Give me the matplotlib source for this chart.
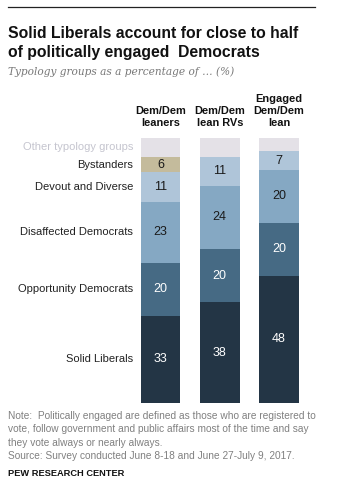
import matplotlib
matplotlib.use("Agg")
import matplotlib.pyplot as plt
import numpy as np

columns = ["Dem/Dem\nleaners", "Dem/Dem\nlean RVs", "Engaged\nDem/Dem\nlean"]
groups = ["Solid Liberals", "Opportunity Democrats", "Disaffected Democrats",
          "Devout and Diverse", "Bystanders", "Other typology groups"]
solid_liberals = [33, 38, 48]
opportunity = [20, 20, 20]
disaffected = [23, 24, 20]
devout = [11, 11, 7]
bystanders = [6, 0, 0]
other = [7, 7, 5]
series = [solid_liberals, opportunity, disaffected, devout, bystanders, other]
colors = ["#233545", "#466A84", "#85A8C3", "#AFC5D9", "#C4BB9C", "#E4E1E7"]
text_colors = ["white", "white", "#1a1a1a", "#1a1a1a", "#1a1a1a", None]
label_colors = ["#222222"] * 5 + ["#C5C5CF"]

W, H = 361, 488
fig = plt.figure(figsize=(W / 100, H / 100), dpi=100)
plt.rcParams['font.family'] = ['Liberation Sans', 'DejaVu Sans']

def fx(px):
    return px / W

def fy(py):
    return 1 - py / H

ax = fig.add_axes([fx(130), fy(403), fx(310) - fx(130), (403 - 138) / H])
x = np.arange(len(columns))
width = 0.67
bottom = np.zeros(len(columns))
for vals, c, tc in zip(series, colors, text_colors):
    vals = np.array(vals, dtype=float)
    ax.bar(x, vals, width, bottom=bottom, color=c, edgecolor="none")
    if tc is not None:
        for xi, v, b in zip(x, vals, bottom):
            if v > 0:
                ax.text(xi, b + v / 2, f"{int(v)}", ha="center", va="center",
                        color=tc, fontsize=9)
    bottom += vals

ax.set_xlim(-0.515, 2.523)
ax.set_ylim(0, 100)
ax.axis("off")

# left labels aligned to first bar segments
b0 = 0
for g, vals, lc in zip(groups, series, label_colors):
    v = vals[0]
    ax.text(-0.46, b0 + v / 2, g, ha="right", va="center", fontsize=8,
            color=lc)
    b0 += v

# column headers
for xi, col in zip(x, columns):
    ax.text(xi, 103.6, col, ha="center", va="bottom", fontsize=7.9,
            fontweight="bold", color="#111111", linespacing=1.3)

# top rule
fig.add_artist(plt.Line2D([fx(8), fx(315)], [fy(7), fy(7)], color="#222222", lw=0.9))

fig.text(fx(8), fy(33), "Solid Liberals account for close to half", fontsize=11.3,
         fontweight="bold", va="center", ha="left", color="#111111")
fig.text(fx(8), fy(53), "of politically engaged  Democrats", fontsize=11.3,
         fontweight="bold", va="center", ha="left", color="#111111")
fig.text(fx(8), fy(72), "Typology groups as a percentage of \u2026 (%)", fontsize=7.6,
         style="italic", family=["DejaVu Serif"], va="center", ha="left", color="#777777")

notes = ["Note:  Politically engaged are defined as those who are registered to",
         "vote, follow government and public affairs most of the time and say",
         "they vote always or nearly always.",
         "Source: Survey conducted June 8-18 and June 27-July 9, 2017."]
for i, n in enumerate(notes):
    fig.text(fx(8), fy(416 + i * 13.3), n, fontsize=7.3, color="#808080",
             va="center", ha="left")
fig.text(fx(8), fy(473), "PEW RESEARCH CENTER", fontsize=6.7, fontweight="bold",
         color="#111111", va="center", ha="left")

fig.savefig("out.png", dpi=100)
